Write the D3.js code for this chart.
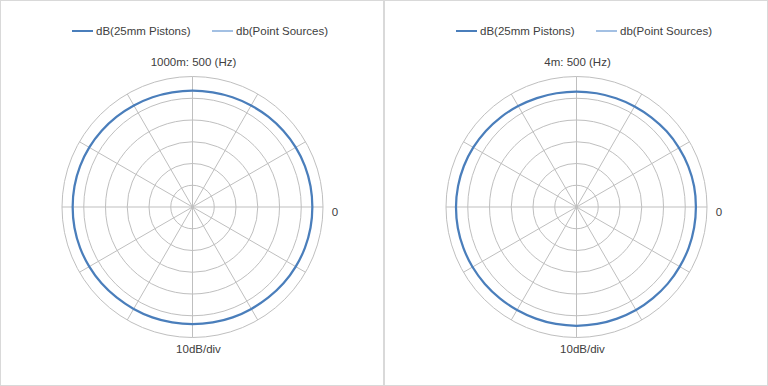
<!DOCTYPE html>
<html>
<head>
<meta charset="utf-8">
<script src="https://cdn.jsdelivr.net/npm/d3@7"></script>
<style>
  body { margin: 0; background: #fff; }
  svg text { font-family: "Liberation Sans", Arial, sans-serif; fill: #404040; }
</style>
</head>
<body>
<div id="chart"></div>
<script>
// angles in degrees, 0 at the right, counter-clockwise
var angles = [0, 10, 20, 30, 40, 50, 60, 70, 80, 90, 100, 110, 120, 130, 140, 150, 160, 170,
              180, 190, 200, 210, 220, 230, 240, 250, 260, 270, 280, 290, 300, 310, 320, 330, 340, 350];

var pistons1000m = [-4.9, -4.9, -5.0, -5.2, -5.5, -5.8, -6.1, -6.3, -6.5, -6.5, -6.5, -6.3, -6.1, -5.8, -5.5, -5.2, -5.0, -4.9,
                    -4.9, -4.9, -5.0, -5.2, -5.4, -5.7, -5.9, -6.0, -6.1, -6.1, -6.1, -6.0, -5.9, -5.7, -5.4, -5.2, -5.0, -4.9];
var pistons4m = [-5.1, -5.1, -5.3, -5.6, -5.9, -6.3, -6.6, -6.8, -6.9, -6.9, -6.9, -6.7, -6.4, -6.0, -5.6, -5.2, -4.9, -4.7,
                 -4.6, -4.6, -4.7, -4.8, -5.0, -5.2, -5.3, -5.4, -5.4, -5.4, -5.4, -5.4, -5.3, -5.3, -5.2, -5.2, -5.1, -5.1];
// point source series is not visible in the picture
var pointSources1000m = [];
var pointSources4m = [];

var seriesNames = ["dB(25mm Pistons)", "db(Point Sources)"];
var seriesColors = ["#4a7ebb", "#a3c0e3"];
var ringTicks = [-60, -50, -40, -30, -20, -10, 0];
var spokeAngles = [0, 30, 60, 90, 120, 150, 180, 210, 240, 270, 300, 330];

var charts = [
  { title: "1000m: 500 (Hz)", pistons: pistons1000m, points: pointSources1000m },
  { title: "4m: 500 (Hz)", pistons: pistons4m, points: pointSources4m }
];

var svgWidth = 768, svgHeight = 386;
var panelWidth = 384;

var svg = d3.select("#chart").append("svg")
  .attr("width", svgWidth)
  .attr("height", svgHeight);

var r = d3.scaleLinear().domain([-60, 0]).range([0, 130.5]);

charts.forEach(function (c, i) {
  var g = svg.append("g")
    .attr("transform", `translate(${i * panelWidth}, 0)`);

  // panel border
  g.append("rect")
    .attr("x", 0.5)
    .attr("y", 0.5)
    .attr("width", panelWidth - 1)
    .attr("height", svgHeight - 1)
    .attr("fill", "none")
    .attr("stroke", "#d9d9d9");

  var cx = 192.5, cy = 207;

  // legend
  var legendX = [72, 212];
  seriesNames.forEach(function (name, k) {
    g.append("line")
      .attr("x1", legendX[k]).attr("x2", legendX[k] + 21)
      .attr("y1", 31).attr("y2", 31)
      .attr("stroke", seriesColors[k])
      .attr("stroke-width", 2);
    g.append("text")
      .attr("x", legendX[k] + 24)
      .attr("y", 35)
      .attr("font-size", "11.5px")
      .text(name);
  });

  // title
  g.append("text")
    .attr("x", cx + 1)
    .attr("y", 66)
    .attr("text-anchor", "middle")
    .attr("font-size", "11.5px")
    .text(c.title);

  var plot = g.append("g")
    .attr("transform", `translate(${cx}, ${cy})`);

  // rings
  plot.selectAll(".ring")
    .data(ringTicks.filter(function (d) { return d > -60; }))
    .enter().append("circle")
    .attr("class", "ring")
    .attr("r", function (d) { return r(d); })
    .attr("fill", "none")
    .attr("stroke", "#bfbfbf")
    .attr("stroke-width", 1);

  // spokes
  plot.selectAll(".spoke")
    .data(spokeAngles)
    .enter().append("line")
    .attr("class", "spoke")
    .attr("x1", 0).attr("y1", 0)
    .attr("x2", function (a) { return r(0) * Math.cos(a * Math.PI / 180); })
    .attr("y2", function (a) { return -r(0) * Math.sin(a * Math.PI / 180); })
    .attr("stroke", "#bfbfbf")
    .attr("stroke-width", 1);

  var line = d3.lineRadial()
    .angle(function (d) { return Math.PI / 2 - d[0] * Math.PI / 180; })
    .radius(function (d) { return r(d[1]); })
    .curve(d3.curveCardinalClosed);

  [c.points, c.pistons].forEach(function (vals, k) {
    if (!vals.length) return;
    plot.append("path")
      .datum(angles.map(function (a, j) { return [a, vals[j]]; }))
      .attr("d", line)
      .attr("fill", "none")
      .attr("stroke", k === 0 ? seriesColors[1] : seriesColors[0])
      .attr("stroke-width", 2.25);
  });

  // axis labels
  g.append("text")
    .attr("x", cx + r(0) + 12)
    .attr("y", cy + 9)
    .attr("text-anchor", "middle")
    .attr("font-size", "11.5px")
    .text("0");

  g.append("text")
    .attr("x", cx + 6)
    .attr("y", cy + 146)
    .attr("text-anchor", "middle")
    .attr("font-size", "11.5px")
    .text("10dB/div");
});
</script>
</body>
</html>
